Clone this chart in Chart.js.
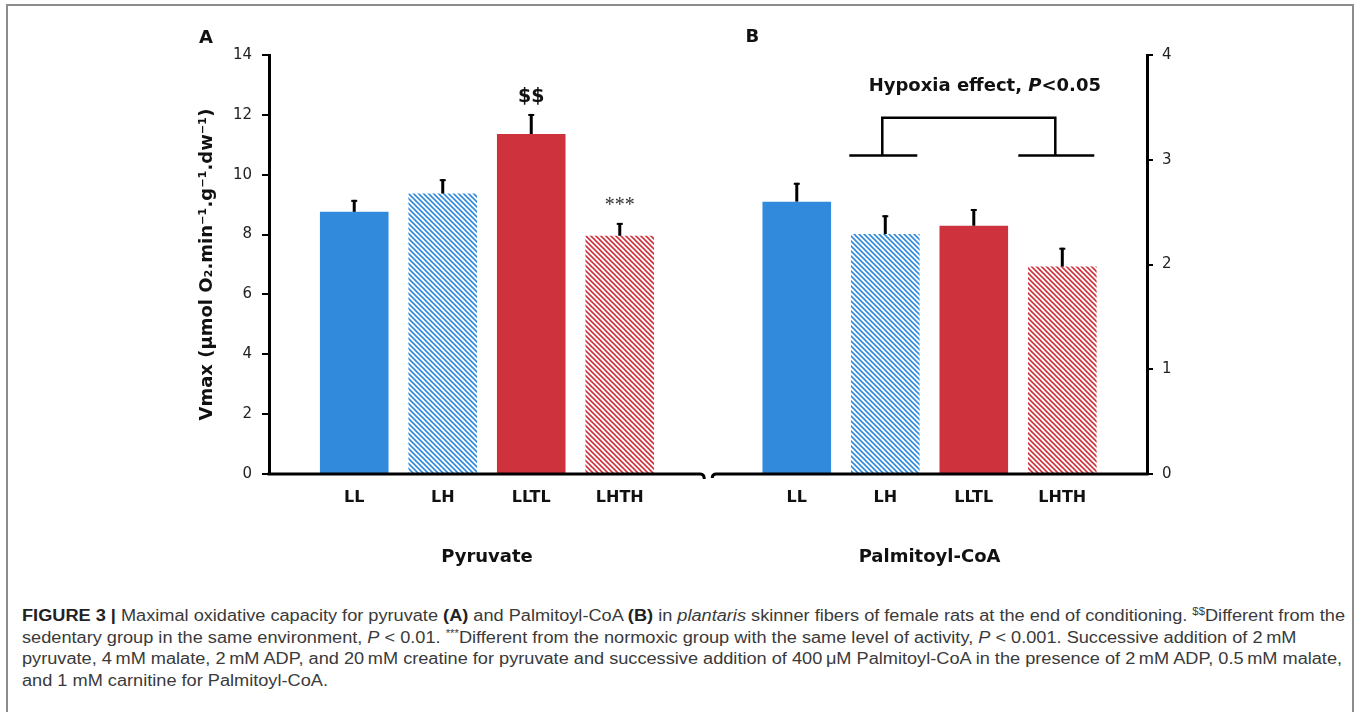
<!DOCTYPE html>
<html>
<head>
<meta charset="utf-8">
<script src="https://cdn.jsdelivr.net/npm/chart.js@4.4.0/dist/chart.umd.min.js"></script>
<style>
  html, body { margin: 0; padding: 0; background: #fff; overflow: hidden; }
  #frame { position: absolute; left: 6px; top: 4px; width: 1344px; height: 800px; border: 2px solid #8c8c8c; }
  #wrap { position: absolute; left: 0; top: 0; width: 1360px; height: 590px; }
  #caption { position: absolute; left: 22px; top: 605px; font: 16px "Liberation Sans", Arial, sans-serif;
    line-height: 21.7px; color: #3a3a3a; white-space: nowrap; transform-origin: 0 0; }
  #caption b { color: #222; }
  #caption sup { font-size: 10px; line-height: 0; vertical-align: 6px; }
</style>
</head>
<body>
<div id="frame"></div>
<div id="wrap"><canvas id="chart"></canvas></div>
<div id="caption">
  <span id="line1"><b>FIGURE 3 |</b> Maximal oxidative capacity for pyruvate <b>(A)</b> and Palmitoyl-CoA <b>(B)</b> in <i>plantaris</i> skinner fibers of female rats at the end of conditioning. <sup>$$</sup>Different from the</span><br>
  sedentary group in the same environment, <i>P</i> &lt; 0.01. <sup>***</sup>Different from the normoxic group with the same level of activity, <i>P</i> &lt; 0.001. Successive addition of 2&#8201;mM<br>
  pyruvate, 4&#8201;mM malate, 2&#8201;mM ADP, and 20&#8201;mM creatine for pyruvate and successive addition of 400&#8201;μM Palmitoyl-CoA in the presence of 2&#8201;mM ADP, 0.5&#8201;mM malate,<br>
  and 1 mM carnitine for Palmitoyl-CoA.
</div>
<script>
document.addEventListener("DOMContentLoaded", function () {

  // data
  const groups = ['LL', 'LH', 'LLTL', 'LHTH'];
  const substrates = ['Pyruvate', 'Palmitoyl-CoA'];
  const pyruvate = [8.76, 9.37, 11.36, 7.96];
  const pyruvateSem = [0.40, 0.48, 0.67, 0.43];
  const pyruvateMarks = ['', '', '$$', '***'];
  const palmitoyl = [2.60, 2.29, 2.37, 1.98];
  const palmitoylSem = [0.18, 0.18, 0.16, 0.18];
  const hypoxiaNote = 'Hypoxia effect, ';

  const blue = '#318adb';
  const red = '#ce323d';
  const sans = '"DejaVu Sans", sans-serif';

  // diagonal hatch for the hypoxic groups
  function hatch(color) {
    const c = document.createElement('canvas');
    c.width = c.height = 5;
    const g = c.getContext('2d');
    g.fillStyle = '#fff';
    g.fillRect(0, 0, 5, 5);
    g.strokeStyle = color;
    g.lineWidth = 1.6;
    g.beginPath();
    g.moveTo(-1, -1); g.lineTo(6, 6);
    g.moveTo(-1, 4); g.lineTo(1, 6);
    g.moveTo(4, -1); g.lineTo(6, 1);
    g.stroke();
    return g.createPattern(c, 'repeat');
  }
  const fills = [blue, hatch(blue), red, hatch(red)];

  // panel B sits after one empty slot
  const xA = groups.map((g, i) => i);
  const xB = groups.map((g, i) => i + groups.length + 1);

  const extras = {
    id: 'extras',
    afterDatasetsDraw(chart) {
      const { ctx, chartArea: area, scales: { x, yA, yB } } = chart;
      ctx.save();
      ctx.strokeStyle = '#000';
      ctx.fillStyle = '#111';

      // error bars
      [[0, pyruvate, pyruvateSem, yA], [1, palmitoyl, palmitoylSem, yB]].forEach(([di, vals, sem, ys]) => {
        chart.getDatasetMeta(di).data.forEach((bar, i) => {
          const top = ys.getPixelForValue(vals[i] + sem[i]);
          ctx.lineWidth = 3;
          ctx.beginPath(); ctx.moveTo(bar.x, bar.y); ctx.lineTo(bar.x, top); ctx.stroke();
          ctx.lineWidth = 2;
          ctx.beginPath(); ctx.moveTo(bar.x - 3, top + 1); ctx.lineTo(bar.x + 3, top + 1); ctx.stroke();
        });
      });

      // significance marks in panel A
      ctx.textAlign = 'center';
      ctx.textBaseline = 'alphabetic';
      chart.getDatasetMeta(0).data.forEach((bar, i) => {
        const top = yA.getPixelForValue(pyruvate[i] + pyruvateSem[i]);
        if (pyruvateMarks[i] === '$$') {
          ctx.font = 'bold 19px ' + sans;
          ctx.fillText(pyruvateMarks[i], bar.x, top - 12);
        } else if (pyruvateMarks[i]) {
          ctx.font = '20px "Liberation Serif", serif';
          ctx.fillStyle = '#333';
          ctx.fillText(pyruvateMarks[i], bar.x, top - 12);
          ctx.fillStyle = '#111';
        }
      });

      // broken x axis
      const y0 = area.bottom;
      const gap = x.getPixelForValue(groups.length);
      ctx.lineWidth = 3;
      ctx.beginPath();
      ctx.moveTo(area.left - 1.5, y0);
      ctx.lineTo(gap - 8, y0);
      ctx.quadraticCurveTo(gap - 4, y0, gap - 4, y0 + 5);
      ctx.moveTo(gap + 4, y0 + 4);
      ctx.quadraticCurveTo(gap + 4, y0, gap + 8, y0);
      ctx.lineTo(area.right + 1.5, y0);
      ctx.stroke();

      // hypoxia bracket in panel B
      const barsB = chart.getDatasetMeta(1).data;
      const v1 = barsB[1].x - 3, v2 = barsB[3].x - 7;
      const yTop = yB.getPixelForValue(3.40), yLow = yB.getPixelForValue(3.04);
      ctx.lineWidth = 2.5;
      ctx.beginPath();
      ctx.moveTo(v1, yLow); ctx.lineTo(v1, yTop); ctx.lineTo(v2, yTop); ctx.lineTo(v2, yLow);
      ctx.moveTo(v1 - 33, yLow); ctx.lineTo(v1 + 35, yLow);
      ctx.moveTo(v2 - 37, yLow); ctx.lineTo(v2 + 39, yLow);
      ctx.stroke();

      const ty = yB.getPixelForValue(3.66);
      ctx.font = 'bold 18px ' + sans;
      const w1 = ctx.measureText(hypoxiaNote).width;
      ctx.font = 'italic bold 18px ' + sans;
      const w2 = ctx.measureText('P').width;
      ctx.font = 'bold 18px ' + sans;
      const w3 = ctx.measureText('<0.05').width;
      let tx = (v1 + v2) / 2 + 16 - (w1 + w2 + w3) / 2;
      ctx.textAlign = 'left';
      ctx.fillText(hypoxiaNote, tx, ty);
      ctx.font = 'italic bold 18px ' + sans;
      ctx.fillText('P', tx + w1, ty);
      ctx.font = 'bold 18px ' + sans;
      ctx.fillText('<0.05', tx + w1 + w2, ty);

      // substrate titles under each panel
      ctx.textAlign = 'center';
      ctx.font = 'bold 18px ' + sans;
      const cA = (x.getPixelForValue(xA[0]) + x.getPixelForValue(xA[3])) / 2;
      const cB = (x.getPixelForValue(xB[0]) + x.getPixelForValue(xB[3])) / 2;
      ctx.fillText(substrates[0], cA, y0 + 88);
      ctx.fillText(substrates[1], cB, y0 + 88);

      // panel letters
      ctx.font = 'bold 18px ' + sans;
      ctx.fillText('A', area.left - 63, 43);
      ctx.fillText('B', gap + 44, 42);
      ctx.restore();
    }
  };

  const tickFont = { family: sans, size: 15 };

  new Chart(document.getElementById('chart'), {
    type: 'bar',
    data: {
      datasets: [
        {
          data: groups.map((g, i) => ({ x: xA[i], y: pyruvate[i] })),
          yAxisID: 'yA',
          backgroundColor: fills,
          borderWidth: 0,
          grouped: false,
          categoryPercentage: 1,
          barPercentage: 0.775
        },
        {
          data: groups.map((g, i) => ({ x: xB[i], y: palmitoyl[i] })),
          yAxisID: 'yB',
          backgroundColor: fills,
          borderWidth: 0,
          grouped: false,
          categoryPercentage: 1,
          barPercentage: 0.775
        }
      ]
    },
    options: {
      responsive: true,
      maintainAspectRatio: false,
      animation: false,
      layout: { padding: { top: 55, left: 0, right: 0, bottom: 0 } },
      plugins: { legend: { display: false }, tooltip: { enabled: false } },
      scales: {
        x: {
          type: 'linear',
          offset: false,
          min: -0.963,
          max: 8.957,
          afterBuildTicks: s => { s.ticks = xA.concat(xB).map(v => ({ value: v })); },
          afterFit: s => { s.height = 116; },
          border: { display: false },
          grid: { display: false, drawTicks: false, offset: false },
          ticks: {
            autoSkip: false, maxRotation: 0, padding: 14, color: '#111',
            font: { family: sans, size: 16, weight: 'bold' },
            callback: v => groups[v > groups.length ? v - groups.length - 1 : v]
          }
        },
        yA: {
          position: 'left',
          min: 0, max: 14,
          afterFit: s => { s.width = 269; },
          border: { display: true, color: '#000', width: 3 },
          grid: { drawOnChartArea: false, tickLength: 7, color: '#000', lineWidth: 2 },
          ticks: { stepSize: 2, padding: 10, color: '#222', font: tickFont },
          title: {
            display: true,
            text: 'Vmax (μmol O₂.min⁻¹.g⁻¹.dw⁻¹)',
            color: '#111',
            font: { family: sans, size: 18, weight: 'bold' },
            padding: { top: 197, bottom: 0 }
          }
        },
        yB: {
          position: 'right',
          min: 0, max: 4,
          afterFit: s => { s.width = 213; },
          border: { display: true, color: '#000', width: 3 },
          grid: { drawOnChartArea: false, tickLength: 6, color: '#000', lineWidth: 2 },
          ticks: { stepSize: 1, padding: 9, color: '#222', font: tickFont }
        }
      }
    },
    plugins: [extras]
  });

  // squeeze the caption to the column width
  const cap = document.getElementById('caption');
  const w = document.getElementById('line1').getBoundingClientRect().width;
  cap.style.transform = 'scaleX(' + (1323 / w) + ')';

});
</script>
</body>
</html>
